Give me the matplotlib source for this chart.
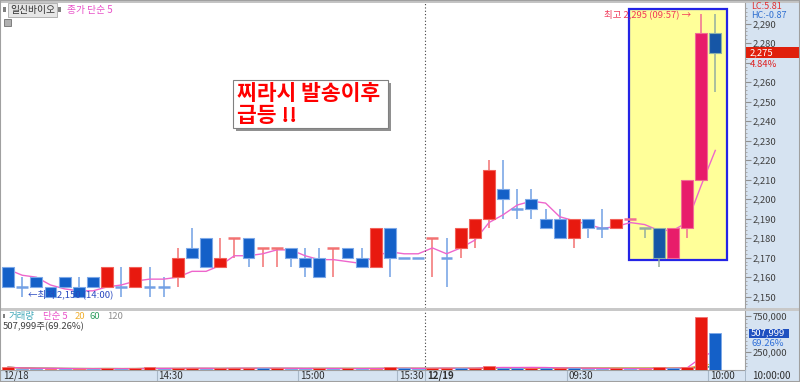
import numpy as np
import pandas as pd
import matplotlib
matplotlib.use('Agg')
import matplotlib.pyplot as plt
from matplotlib.patches import Rectangle
from matplotlib.transforms import blended_transform_factory

plt.rcParams['font.family'] = ['Noto Sans CJK KR', 'DejaVu Sans']

# 3-minute candles, 12/18 13:57 .. 12/19 10:00
opens = [2165, 2155, 2160, 2155, 2160, 2155, 2160, 2155, 2155, 2155,
         2155, 2155, 2160, 2175, 2180, 2165, 2180, 2180, 2175, 2175,
         2175, 2170, 2170, 2175, 2175, 2170, 2165, 2185, 2170, 2170,
         2180, 2170, 2175, 2180, 2190, 2205, 2195, 2200, 2190, 2190,
         2180, 2190, 2185, 2185, 2190, 2185, 2185, 2170, 2185, 2210,
         2285]
highs = [2165, 2160, 2160, 2155, 2160, 2160, 2160, 2165, 2165, 2165,
         2165, 2160, 2175, 2185, 2180, 2180, 2180, 2180, 2175, 2175,
         2175, 2175, 2175, 2175, 2175, 2175, 2185, 2185, 2170, 2170,
         2180, 2180, 2185, 2190, 2220, 2220, 2205, 2205, 2195, 2195,
         2190, 2190, 2195, 2190, 2190, 2185, 2185, 2185, 2210, 2295,
         2295]
lows = [2155, 2150, 2155, 2150, 2155, 2150, 2155, 2155, 2150, 2155,
        2150, 2150, 2155, 2170, 2165, 2165, 2170, 2165, 2165, 2165,
        2165, 2160, 2160, 2160, 2170, 2165, 2165, 2160, 2170, 2170,
        2160, 2155, 2170, 2175, 2185, 2190, 2190, 2190, 2185, 2180,
        2175, 2180, 2180, 2185, 2190, 2180, 2165, 2170, 2180, 2210,
        2255]
closes = [2155, 2155, 2155, 2150, 2155, 2150, 2155, 2165, 2155, 2165,
          2155, 2155, 2170, 2170, 2165, 2170, 2180, 2170, 2175, 2175,
          2170, 2165, 2160, 2175, 2170, 2165, 2185, 2170, 2170, 2170,
          2180, 2170, 2185, 2190, 2215, 2200, 2195, 2195, 2185, 2180,
          2190, 2185, 2185, 2190, 2190, 2185, 2170, 2185, 2210, 2285,
          2275]
prior_closes = [2170, 2160, 2170, 2165]  # closes before the first visible candle

volumes = [38000, 18000, 16000, 20000, 14000, 18000, 15000, 24000, 14000, 22000,
           36000, 15000, 24000, 26000, 20000, 24000, 26000, 28000, 22000, 24000,
           20000, 16000, 26000, 18000, 22000, 16000, 20000, 36000, 26000, 14000,
           22000, 30000, 24000, 32000, 58000, 34000, 26000, 32000, 24000, 28000,
           22000, 18000, 16000, 22000, 14000, 18000, 36000, 26000, 48000, 728000,
           507999]

tick_pos = [10.5, 20.5, 27.5, 29.5, 39.5, 49.5]
tick_lbl = ['14:30', '15:00', '15:30', '12/19', '09:30', '10:00']
day_split = 29.5

W, H = 800, 382
fig = plt.figure(figsize=(8, 3.82), dpi=100)
fig.patch.set_facecolor('white')

def fx(px):
    return px / W

def fy(py):
    return 1 - py / H

# background strips
bg = '#D6E3F1'
for r in [Rectangle((fx(745), fy(370)), fx(55), (370 - 3) / H, fc=bg),
          Rectangle((0, 0), 1, 12 / H, fc=bg),
          Rectangle((0, fy(311)), 1, 3 / H, fc='#C8C8C8'),
          Rectangle((0, fy(3)), 1, 3 / H, fc='#C4C4C4')]:
    r.set_transform(fig.transFigure)
    r.set_edgecolor('none')
    r.set_zorder(-1)
    fig.add_artist(r)

ax = fig.add_axes([0, fy(308), fx(745), (308 - 3) / H])
axv = fig.add_axes([0, fy(370), fx(745), (370 - 311) / H])

x = np.arange(len(closes))
o, hi, lo, c = (np.array(a, dtype=float) for a in (opens, highs, lows, closes))

# candle colour: body direction, doji by previous close (tie keeps previous)
is_up = []
for i in range(len(c)):
    if c[i] != o[i]:
        is_up.append(c[i] > o[i])
    elif i > 0 and c[i] != c[i - 1]:
        is_up.append(c[i] > c[i - 1])
    else:
        is_up.append(is_up[-1] if i > 0 else False)

box_x0, box_x1 = 43.92, 50.85
box_y0, box_y1 = 2168.8, 2297.5

pal = {
    (True, False): ('#E8190F', '#F26058', '#F27272'),
    (False, False): ('#1460C8', '#7CA8E8', '#72A0E4'),
    (True, True): ('#E81C6A', '#F06C95', '#F06C95'),
    (False, True): ('#1656A6', '#8AB0A8', '#93ADA0'),
}

ax.add_patch(Rectangle((box_x0, box_y0), box_x1 - box_x0, box_y1 - box_y0,
                       fc='#FFFF99', ec='#2424E6', lw=1.6, zorder=1))

w = 0.84
for i in x:
    body, edge, wick = pal[(is_up[i], i >= box_x0)]
    ax.vlines(i, lo[i], hi[i], colors=wick, lw=1.1, zorder=2)
    if o[i] == c[i]:
        ax.hlines(c[i], i - w / 2, i + w / 2, colors=wick, lw=1.8, zorder=3)
    else:
        b = min(o[i], c[i])
        ax.bar(i, abs(c[i] - o[i]), bottom=b, width=w, color=body,
               edgecolor=edge, lw=0.8, zorder=3)

ma5 = pd.Series(prior_closes + closes).rolling(5).mean().iloc[len(prior_closes):]
ax.plot(x, ma5.values, color='#EE66CC', lw=1.0, zorder=2.5)

ax.set_xlim(-0.57, 52.1)
ax.set_ylim(2144.2, 2300.6)
ax.axvline(day_split, color='#404040', lw=0.8, ls=(0, (1, 2)), zorder=5)

ax.yaxis.tick_right()
yt = list(range(2150, 2291, 10))
ax.set_yticks(yt)
ax.set_yticks(np.arange(2146, 2300, 2), minor=True)
# 2,270 sits under the current-price badge
ax.set_yticklabels(['' if v == 2270 else f'{v:,}' for v in yt])
ax.tick_params(axis='y', which='major', length=4, color='#909090',
               labelsize=6.8, labelcolor='#404040', pad=1.5)
ax.tick_params(axis='y', which='minor', length=1.5, color='#A0A0A0')
ax.set_xticks([])
for s in ['top', 'left', 'bottom']:
    ax.spines[s].set_visible(False)
ax.spines['right'].set_color('#A0A0A0')

# price annotations
ax.text(48.3, 2295, '최고 2,295 (09:57) →', color='#F03A5A', fontsize=6.8,
        ha='right', va='center', zorder=6)
ax.text(1.4, 2151, '←최저 2,150 (14:00)', color='#2848C0', fontsize=6.8,
        ha='left', va='center', zorder=6)

tr = blended_transform_factory(fig.transFigure, ax.transData)
ax.add_patch(Rectangle((fx(746), 2272.3), fx(54), 5.6, transform=tr,
                       fc='#E0200C', ec='none', clip_on=False, zorder=6))
ax.text(fx(750), 2275, '2,275', transform=tr, color='white', fontsize=6.8,
        va='center', ha='left', zorder=7, clip_on=False)
ax.text(fx(750), 2269.3, '4.84%', transform=tr, color='#E02020', fontsize=6.8,
        va='center', ha='left', zorder=7, clip_on=False)

# headline box
fig.add_artist(Rectangle((fx(236), fy(131)), fx(155), 48 / H,
                         transform=fig.transFigure, fc='#909090', ec='none', zorder=8))
fig.add_artist(Rectangle((fx(233), fy(128)), fx(155), 48 / H,
                         transform=fig.transFigure, fc='white', ec='#808080',
                         lw=0.8, zorder=9))
fig.text(fx(237), fy(94), '찌라시 발송이후', color='#FF0000', fontsize=15.5,
         fontweight='bold', va='center', zorder=10)
fig.text(fx(237), fy(116), '급등 !!', color='#FF0000', fontsize=15.5,
         fontweight='bold', va='center', zorder=10)

# volume pane
vcol = ['#E8190F' if (i == 0 or volumes[i] > volumes[i - 1]) else '#1460C8'
        for i in x]
vedge = ['#F27272' if col == '#E8190F' else '#7CA8E8' for col in vcol]
axv.bar(x, volumes, width=w, color=vcol, edgecolor=vedge, lw=0.6, zorder=3)
vs = pd.Series(volumes, dtype=float)
for n, col in [(120, '#A0A0A0'), (60, '#30A060'), (20, '#F0A830'), (5, '#EE55CC')]:
    axv.plot(x, vs.rolling(n, min_periods=1).mean().values, color=col, lw=0.9, zorder=2)
axv.set_xlim(-0.57, 52.1)
axv.set_ylim(0, 815000)
axv.axvline(day_split, color='#404040', lw=0.8, ls=(0, (1, 2)), zorder=5)
axv.yaxis.tick_right()
axv.set_yticks([250000, 750000])
axv.set_yticklabels(['250,000', '750,000'])
axv.set_yticks(np.arange(50000, 800000, 50000), minor=True)
axv.tick_params(axis='y', which='major', length=4, color='#909090',
                labelsize=6.8, labelcolor='#404040', pad=1.5)
axv.tick_params(axis='y', which='minor', length=1.5, color='#A0A0A0')
axv.set_xticks([])
for s in ['top', 'left']:
    axv.spines[s].set_visible(False)
axv.spines['right'].set_color('#A0A0A0')
axv.spines['bottom'].set_color('#A0A0A0')

trv = blended_transform_factory(fig.transFigure, axv.transData)
axv.add_patch(Rectangle((fx(749), 448000), fx(40), 118000, transform=trv,
                        fc='#1E50C0', ec='none', clip_on=False, zorder=6))
axv.text(fx(751), 507999, '507,999', transform=trv, color='white', fontsize=6.8,
         va='center', ha='left', zorder=7, clip_on=False)
axv.text(fx(751), 360000, '69.26%', transform=trv, color='#3070D8', fontsize=6.8,
         va='center', ha='left', zorder=7, clip_on=False)

# time strip
trx = blended_transform_factory(axv.transData, axv.transAxes)
axv.vlines(tick_pos, -12 / 59, 0, transform=trx, colors='#A8B8C8', lw=0.8, clip_on=False)
for p, s in zip(tick_pos, tick_lbl):
    axv.text(p + 0.12, -6 / 59, s, transform=trx, fontsize=7, color='#303030',
             va='center', ha='left', clip_on=False,
             fontweight='bold' if '/' in s else 'normal')
fig.text(fx(3), fy(376), '12/18', fontsize=7, color='#303030', va='center')
fig.text(fx(752), fy(376), '10:00:00', fontsize=7, color='#303030', va='center')
fig.add_artist(Rectangle((fx(745), 0), 0.001, 12 / H, transform=fig.transFigure,
                         fc='#A8B8C8', ec='none'))

# header texts
fig.text(fx(751), fy(6.5), 'LC:5.81', fontsize=6.5, color='#E03030', va='center')
fig.text(fx(751), fy(15), 'HC:-0.87', fontsize=6.5, color='#3070D0', va='center')

fig.add_artist(Rectangle((fx(3), fy(12)), fx(3), 5 / H, transform=fig.transFigure,
                         fc='#808080', ec='none'))
fig.text(fx(10), fy(10), '일신바이오', fontsize=7, color='#303030', va='center',
         bbox=dict(fc='#E6E6E6', ec='#A8A8A8', lw=0.6, pad=1.2))
fig.add_artist(Rectangle((fx(58), fy(12)), fx(3), 5 / H, transform=fig.transFigure,
                         fc='#808080', ec='none'))
fig.text(fx(67), fy(10), '종가 단순 5', fontsize=7, color='#E850C8', va='center')
fig.add_artist(Rectangle((fx(4), fy(26)), fx(7), 7 / H, transform=fig.transFigure,
                         fc='#B0B0B0', ec='#707070', lw=0.6))

fig.add_artist(Rectangle((fx(3), fy(318)), fx(2), 4 / H, transform=fig.transFigure,
                         fc='#808080', ec='none'))
for px, s, col in [(9, '거래량', '#40A8B8'), (43, '단순 5', '#E850C8'),
                   (75, '20', '#F0B030'), (90, '60', '#30A060'), (107, '120', '#909090')]:
    fig.text(fx(px), fy(316.5), s, fontsize=6.8, color=col, va='center')
fig.text(fx(3), fy(326.5), '507,999주(69.26%)', fontsize=6.8, color='#404040', va='center')

# outer frame
fig.add_artist(Rectangle((0, 0), 1, 1, transform=fig.transFigure, fc='none',
                         ec='#A0A0A0', lw=1.5, zorder=20))

fig.savefig('out.png', dpi=100)
